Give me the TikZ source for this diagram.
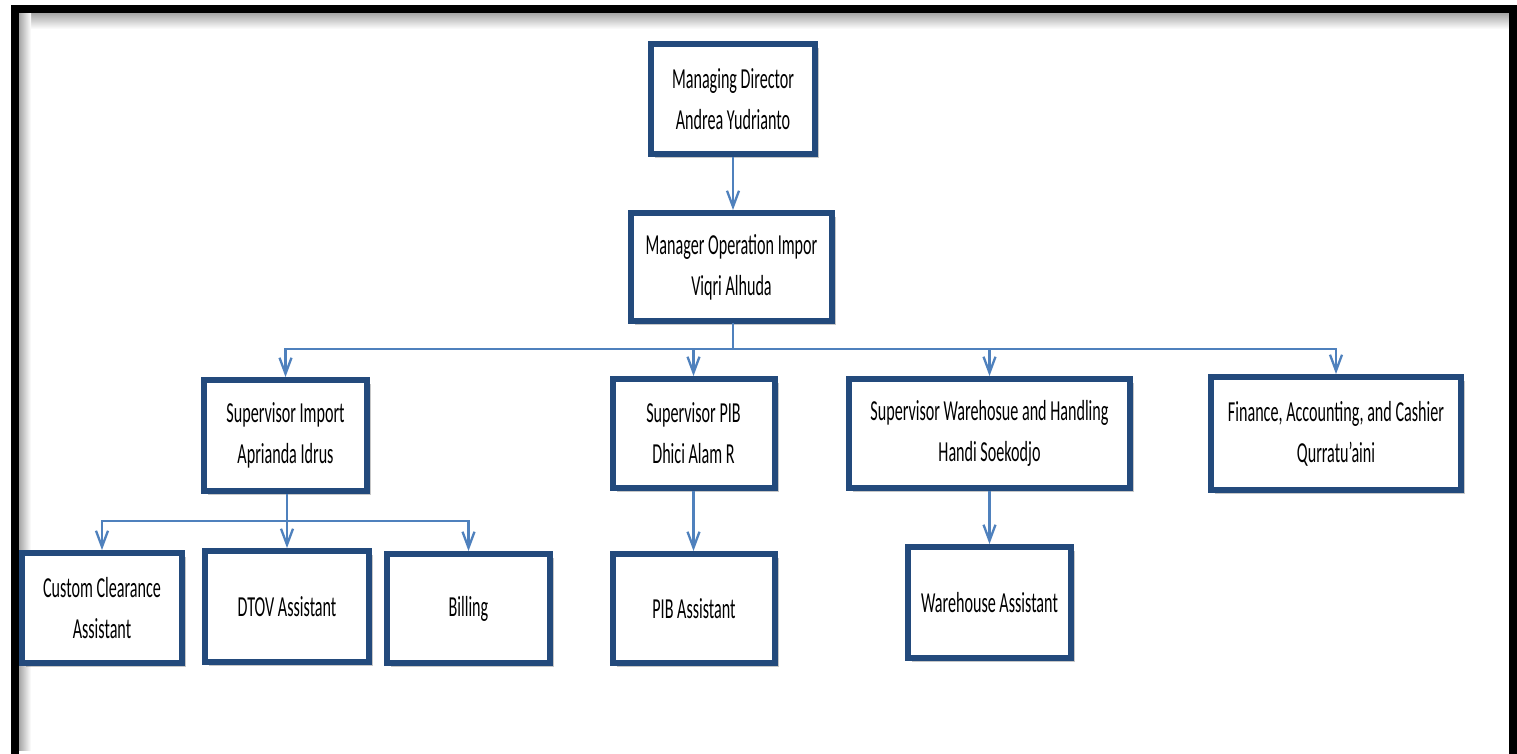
\documentclass[tikz,border=0pt]{standalone}
\usepackage{fontspec}
\setmainfont{Carlito}[FakeStretch=0.556]
\usetikzlibrary{arrows.meta,shadows}
\definecolor{boxblue}{HTML}{234A7C}
\definecolor{lineblue}{HTML}{4F81BD}
\begin{document}
\begin{tikzpicture}[x=1pt,y=-1pt,
  box/.style={draw=boxblue, line width=6pt, fill=white, align=center, inner sep=0pt,
    font=\fontsize{29}{41}\selectfont,
    drop shadow={shadow xshift=4pt, shadow yshift=-4pt, fill=black, opacity=0.22}},
  wire/.style={draw=lineblue, line width=2.3pt},
  conn/.style={wire, -{Straight Barb[length=16pt,width=12pt]}}]
\useasboundingbox (0,0) rectangle (1517,754);
\fill[white] (0,0) rectangle (1517,754);
% frame inner shadow
\shade[top color=black!35, bottom color=white] (19,13) rectangle (1509,29);
\shade[left color=black!35, right color=white] (19,13) rectangle (31,750);
\draw[line width=8pt] (15,9) rectangle (1513,758);
% boxes
\node[box, minimum width=164pt, minimum height=110pt] (md) at (733,99) {Managing Director\\Andrea Yudrianto};
\node[box, minimum width=201pt, minimum height=108pt] (mo) at (731.5,267) {Manager Operation Impor\\Viqri Alhuda};
\node[box, minimum width=163pt, minimum height=111pt] (si) at (285.5,435.5) {Supervisor Import\\Aprianda Idrus};
\node[box, minimum width=162pt, minimum height=109pt] (sp) at (693.5,433.5) {Supervisor PIB\\Dhici Alam R};
\node[box, minimum width=281pt, minimum height=109pt] (sw) at (989.5,433.5) {Supervisor Warehosue and Handling\\Handi Soekodjo};
\node[box, minimum width=250pt, minimum height=113pt] (fin) at (1336,433.5) {Finance, Accounting, and Cashier\\Qurratu'aini};
\node[box, minimum width=160pt, minimum height=110pt] (cc) at (102,608) {Custom Clearance\\Assistant};
\node[box, minimum width=164pt, minimum height=111pt] (dtov) at (287,606.5) {DTOV Assistant};
\node[box, minimum width=163pt, minimum height=109pt] (bill) at (468.5,608.5) {Billing};
\node[box, minimum width=162pt, minimum height=109pt] (pa) at (694,608.5) {PIB Assistant};
\node[box, minimum width=163pt, minimum height=111pt] (wa) at (989.5,602.5) {Warehouse Assistant};
% connectors
\draw[conn] (md.south) -- (md.south |- mo.north);
\coordinate (b1) at (733,349);
\draw[wire] (733,323) -- (b1);
\draw[conn] (b1) -| (si.north);
\draw[conn] (b1) -| (sp.north);
\draw[conn] (b1) -| (sw.north);
\draw[conn] (b1) -| (fin.north);
\coordinate (b2) at (287,521);
\draw[wire] (si.south -| b2) -- (b2);
\draw[conn] (b2) -| (cc.north);
\draw[conn] (b2) -| (dtov.north);
\draw[conn] (b2) -| (bill.north);
\draw[conn] (sp.south) -- (sp.south |- pa.north);
\draw[conn] (sw.south) -- (sw.south |- wa.north);
\end{tikzpicture}
\end{document}
